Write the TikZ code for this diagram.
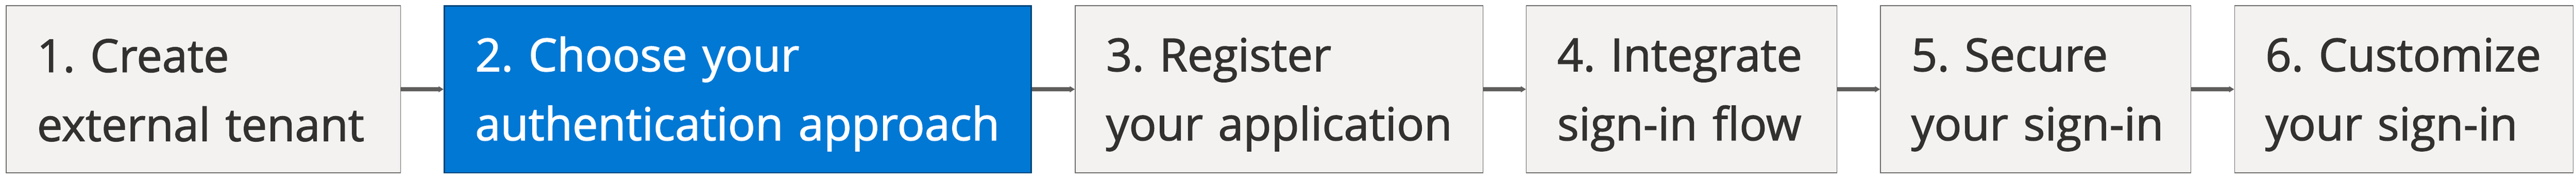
\documentclass[tikz,border=0pt]{standalone}
\usepackage{fontspec}
\newfontfamily\stepfont{Open Sans}[FakeBold=1.6]
\newcommand\stepsetup{\stepfont\fontsize{36}{54.6}\selectfont\frenchspacing
  \hyphenpenalty=10000 \exhyphenpenalty=10000 \relax}
\usetikzlibrary{arrows.meta,positioning}

\definecolor{boxfill}{HTML}{F3F2F1}
\definecolor{boxline}{HTML}{6E6D6B}
\definecolor{boxtext}{HTML}{323130}
\definecolor{activefill}{HTML}{0078D4}
\definecolor{activeline}{HTML}{004578}
\definecolor{flowline}{HTML}{605E5C}

\begin{document}
\begin{tikzpicture}[
    stepbox/.style={draw=boxline, fill=boxfill, text=boxtext, line width=0.02cm,
      minimum height=4.64cm, inner xsep=0.86cm, inner ysep=0pt, align=left,
      font=\stepsetup,
      execute at begin node={\rule{0pt}{1.22cm}},
      execute at end node={\rule[-0.26cm]{0pt}{0.26cm}}},
    activebox/.style={stepbox, draw=activeline, fill=activefill, text=white, line width=0.04cm},
    flow/.style={draw=flowline, line width=0.12cm, -{Triangle[length=0.14cm,width=0.16cm]}},
    node distance=1.19cm]
  \useasboundingbox (0,0) rectangle (71.66,4.96);
  \node[stepbox, text width=9.25cm, anchor=west] (create) at (0.16,2.48) {1.~Create\\external~tenant};
  \node[activebox, text width=14.61cm, right=of create] (choose) {2.~Choose~your\\authentication~approach};
  \node[stepbox, text width=9.62cm, right=of choose] (register) {3.~Register\\your~application};
  \node[stepbox, text width=6.92cm, right=of register] (integrate) {4.~Integrate\\sign-in~flow};
  \node[stepbox, text width=6.92cm, right=of integrate] (secure) {5.~Secure\\your~sign-in};
  \node[stepbox, text width=7.70cm, right=of secure] (customize) {6.~Customize\\your~sign-in};
  \draw[flow] (create) -- (choose);
  \draw[flow] (choose) -- (register);
  \draw[flow] (register) -- (integrate);
  \draw[flow] (integrate) -- (secure);
  \draw[flow] (secure) -- (customize);
\end{tikzpicture}
\end{document}
